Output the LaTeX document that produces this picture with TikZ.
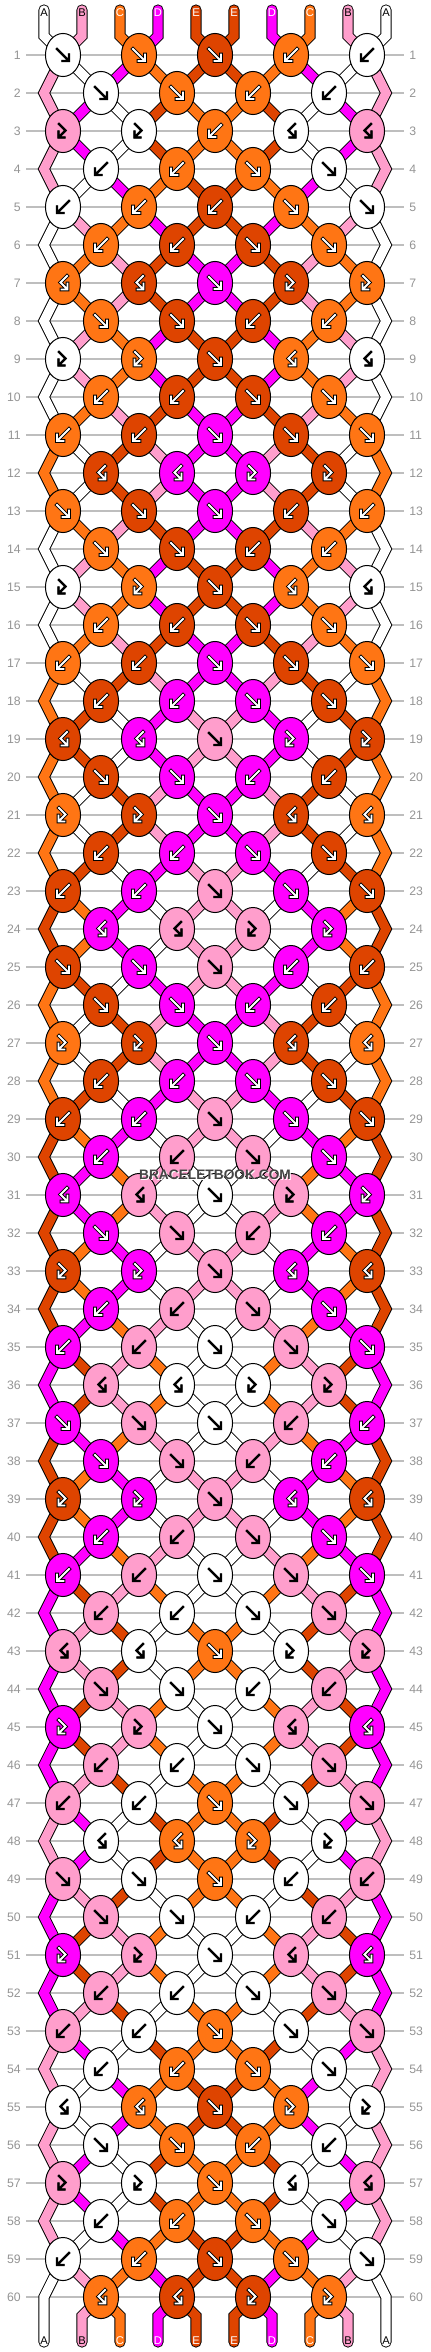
\documentclass[tikz,border=0pt]{standalone}
\usepackage{fontspec}
\newfontfamily\labelfont{Liberation Sans}
\usetikzlibrary{shapes.geometric}

% string colours, one per letter
\definecolor{strA}{RGB}{255,255,255}
\definecolor{strB}{RGB}{255,158,204}
\definecolor{strC}{RGB}{255,117,20}
\definecolor{strD}{RGB}{255,0,255}
\definecolor{strE}{RGB}{222,68,0}
% colour of arrows and letters on each string colour
\colorlet{onA}{black}
\colorlet{onB}{black}
\colorlet{onC}{white}
\colorlet{onD}{white}
\colorlet{onE}{white}
\definecolor{rowline}{RGB}{190,190,190}
\definecolor{rownum}{RGB}{148,148,148}
\definecolor{markgray}{RGB}{68,68,68}

% black rim under the arrows (wider where the arrow is white)
\def\rimA{1.8pt}\def\rimB{1.8pt}\def\rimC{2.9pt}\def\rimD{2.9pt}\def\rimE{2.9pt}

% knot symbols, in px with y pointing down
\def\symf{(-6,-6) -- (5,5) (-0.5,6) -- (6,6) -- (6,-0.5)}
\def\symb{(6,-6) -- (-5,5) (0.5,6) -- (-6,6) -- (-6,-0.5)}
\def\symfb{(-4,-7) -- (2.5,-0.5) -- (-3.5,5.5) (1.5,6.5) -- (-4.5,6.5) -- (-4.5,0.5)}
\def\symbf{(4,-7) -- (-2.5,-0.5) -- (3.5,5.5) (-1.5,6.5) -- (4.5,6.5) -- (4.5,0.5)}

% knot kinds: which string gives the colour, and do the two strings swap
\newcommand\knotf{\let\kstr\lstr\def\swap{1}}
\newcommand\knotb{\let\kstr\rstr\def\swap{1}}
\newcommand\knotfb{\let\kstr\lstr\def\swap{0}}
\newcommand\knotbf{\let\kstr\rstr\def\swap{0}}

\newcommand\knotsymbol[2]{%
  \expandafter\let\expandafter\sympath\csname sym#1\endcsname
  \edef\rimw{\csname rim#2\endcsname}%
  \draw[black, line width=\rimw, line cap=rect, shift={(\px,\py)}] \sympath;
  \draw[on#2, line width=1.4pt, line cap=rect, shift={(\px,\py)}] \sympath;}

% name of the knot (or edge point) that holds a slot in a row
\newcommand\posname[2]{%
  \ifodd#1\relax
    \pgfmathtruncatemacro\kpos{(#2+1)/2}\edef\pn{k#1-\kpos}%
  \else
    \ifnum#2=1 \edef\pn{e#1-1}%
    \else\ifnum#2=10 \edef\pn{e#1-10}%
    \else\pgfmathtruncatemacro\kpos{#2/2}\edef\pn{k#1-\kpos}%
    \fi\fi
  \fi}

\pgfdeclarelayer{rows}
\pgfdeclarelayer{strings}
\pgfsetlayers{rows,strings,main}

\tikzset{
  knot/.style={ellipse, draw=black, line width=0.75pt, fill=str#1,
    minimum width=26.3pt, minimum height=32.3pt, inner sep=0pt},
  band/.style={line width=0.7pt, double=str#1, double distance=7pt, line join=miter},
  tail/.style={band=#1, line cap=round},
  rowlabel/.style={text=rownum, font=\labelfont\fontsize{9.2}{10}\selectfont, inner sep=0pt},
  letter/.style={text=on#1, font=\labelfont\fontsize{8.4}{9}\selectfont, inner sep=0pt},
}

\begin{document}
\begin{tikzpicture}[x=0.75pt, y=-0.75pt]
\useasboundingbox (0,0) rectangle (430,2352);

% row guides and numbers
\begin{pgfonlayer}{rows}
\foreach \row in {1,...,60}{
  \pgfmathtruncatemacro\py{17+38*\row}
  \draw[rowline, line width=0.8pt] (26,\py) -- (404,\py);
}
\end{pgfonlayer}
\foreach \row in {1,...,60}{
  \pgfmathtruncatemacro\py{17+38*\row}
  \node[rowlabel, anchor=east] (numl\row) at (21,\py) {\row};
  \node[rowlabel, anchor=west] (numr\row) at (409,\py) {\row};
}

% strings at the start, their letters and tail points
\foreach \slot/\scol in {1/A,2/B,3/C,4/D,5/E,6/E,7/D,8/C,9/B,10/A}{
  \expandafter\xdef\csname sl\slot\endcsname{\scol}
  \pgfmathtruncatemacro\sx{6+38*\slot}
  \coordinate (top\slot) at (\sx,10);
  \coordinate (topbend\slot) at (\sx,36);
  \coordinate (botbend\slot) at (\sx,2316);
  \coordinate (bot\slot) at (\sx,2342);
  \node[letter=\scol] (lettop\slot) at (\sx,13) {\scol};
  \node[letter=\scol] (letbot\slot) at (\sx,2341) {\scol};
}

% knots, row by row
\foreach \row/\types in {
  1/{f,f,f,b,b}, 2/{f,f,b,b}, 3/{fb,fb,b,bf,bf}, 4/{b,b,f,f},
  5/{b,b,b,f,f}, 6/{b,b,f,f}, 7/{bf,bf,f,fb,fb}, 8/{f,f,b,b},
  9/{fb,fb,f,bf,bf}, 10/{b,b,f,f}, 11/{b,b,f,f,f}, 12/{bf,bf,fb,fb},
  13/{f,f,f,b,b}, 14/{f,f,b,b}, 15/{fb,fb,f,bf,bf}, 16/{b,b,f,f},
  17/{b,b,f,f,f}, 18/{b,b,f,f}, 19/{bf,bf,f,fb,fb}, 20/{f,f,b,b},
  21/{fb,fb,f,bf,bf}, 22/{b,b,f,f}, 23/{b,b,f,f,f}, 24/{bf,bf,fb,fb},
  25/{f,f,f,b,b}, 26/{f,f,b,b}, 27/{fb,fb,f,bf,bf}, 28/{b,b,f,f},
  29/{b,b,f,f,f}, 30/{b,b,f,f}, 31/{bf,bf,f,fb,fb}, 32/{f,f,b,b},
  33/{fb,fb,f,bf,bf}, 34/{b,b,f,f}, 35/{b,b,f,f,f}, 36/{bf,bf,fb,fb},
  37/{f,f,f,b,b}, 38/{f,f,b,b}, 39/{fb,fb,f,bf,bf}, 40/{b,b,f,f},
  41/{b,b,f,f,f}, 42/{b,b,f,f}, 43/{bf,bf,f,fb,fb}, 44/{f,f,b,b},
  45/{fb,fb,f,bf,bf}, 46/{b,b,f,f}, 47/{b,b,f,f,f}, 48/{bf,bf,fb,fb},
  49/{f,f,f,b,b}, 50/{f,f,b,b}, 51/{fb,fb,f,bf,bf}, 52/{b,b,f,f},
  53/{b,b,f,f,f}, 54/{b,b,f,f}, 55/{bf,bf,f,fb,fb}, 56/{f,f,b,b},
  57/{fb,fb,f,bf,bf}, 58/{b,b,f,f}, 59/{b,b,f,f,f}, 60/{bf,bf,fb,fb}}{
  \pgfmathtruncatemacro\py{17+38*\row}
  \foreach \kt [count=\kn] in \types {
    \ifodd\row\relax \pgfmathtruncatemacro\sa{2*\kn-1}\else \pgfmathtruncatemacro\sa{2*\kn}\fi
    \pgfmathtruncatemacro\sb{\sa+1}
    \pgfmathtruncatemacro\px{25+38*\sa}
    \edef\lstr{\csname sl\sa\endcsname}
    \edef\rstr{\csname sl\sb\endcsname}
    \csname knot\kt\endcsname
    \ifnum\swap=1
      \expandafter\xdef\csname sl\sa\endcsname{\rstr}
      \expandafter\xdef\csname sl\sb\endcsname{\lstr}
    \fi
    \node[knot=\kstr] (k\row-\kn) at (\px,\py) {};
    \knotsymbol{\kt}{\kstr}
  }
  \foreach \slot in {1,...,10}{
    \expandafter\xdef\csname col\row-\slot\endcsname{\csname sl\slot\endcsname}
  }
  \ifodd\row\relax\else
    \coordinate (e\row-1) at (44,\py);
    \coordinate (e\row-10) at (386,\py);
  \fi
}

% the strings between the knots
\begin{pgfonlayer}{strings}
\foreach \slot/\scol in {1/A,2/B,3/C,4/D,5/E,6/E,7/D,8/C,9/B,10/A}{
  \posname{1}{\slot}
  \draw[tail=\scol] (top\slot) -- (topbend\slot) -- (\pn.center);
}
\foreach \row in {1,...,59}{
  \pgfmathtruncatemacro\nxt{\row+1}
  \pgfmathtruncatemacro\nnx{\row+2}
  \foreach \slot in {1,...,10}{
    \edef\scol{\csname col\row-\slot\endcsname}
    \posname{\row}{\slot}\let\posa\pn
    \posname{\nxt}{\slot}\let\posb\pn
    \ifnum\slot=1 \def\isedge{1}\else\ifnum\slot=10 \def\isedge{1}\else\def\isedge{0}\fi\fi
    \ifnum\isedge=0
      \draw[band=\scol] (\posa.center) -- (\posb.center);
    \else\ifodd\row\relax
      \ifnum\row<59
        \posname{\nnx}{\slot}\let\posc\pn
        \draw[band=\scol] (\posa.center) -- (\posb) -- (\posc.center);
      \else
        \draw[tail=\scol] (\posa.center) -- (\posb) -- (bot\slot);
      \fi
    \fi\fi
  }
}
\foreach \slot in {2,...,9}{
  \posname{60}{\slot}
  \edef\scol{\csname col60-\slot\endcsname}
  \draw[tail=\scol] (\pn.center) -- (botbend\slot) -- (bot\slot);
}
\end{pgfonlayer}

% site mark
\node[text=white, font=\labelfont\bfseries\fontsize{10.3}{12}\selectfont] (markglow) at (216,1176) {BRACELETBOOK.COM};
\node[text=markgray, font=\labelfont\bfseries\fontsize{10.3}{12}\selectfont] (mark) at (215,1175) {BRACELETBOOK.COM};
\end{tikzpicture}
\end{document}
